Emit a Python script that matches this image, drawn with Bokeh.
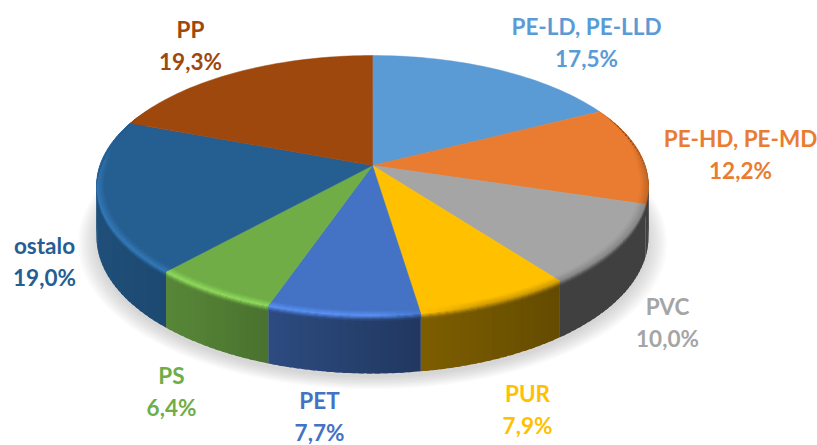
import numpy as np
from bokeh.plotting import figure
from bokeh.models import ColumnDataSource
from bokeh.core.properties import value
from bokeh.embed import file_html
from bokeh.resources import INLINE

categories = ["PE-LD, PE-LLD", "PE-HD, PE-MD", "PVC", "PUR", "PET", "PS", "ostalo", "PP"]
shares = [17.5, 12.2, 10.0, 7.9, 7.7, 6.4, 19.0, 19.3]
colors = ["#5B9BD5", "#E97C30", "#A5A5A5", "#FFC000", "#4472C4", "#70AD47", "#255E91", "#9E480E"]
label_x = [586, 740, 667, 527, 319, 171, 44, 190]
label_y = [26, 138, 306, 393, 400, 375, 245, 29]
line_gap = 32

# perspective view of the pie disc
CX, CY, A, B, K = 372.0, 165.0, 272.7, 126.9, 0.1538


def project(theta, r=1.0):
    u, v = r * np.sin(theta), -r * np.cos(theta)
    d = 1 - K * v
    return CX + A * u / d, CY + B * v / d


def depth(theta):
    return 50 + 8 * (-np.cos(theta))


def rgb(h):
    return np.array([int(h[i:i + 2], 16) for i in (1, 3, 5)], dtype=float)


def tohex(c):
    c = np.clip(np.round(c), 0, 255).astype(int)
    return "#%02x%02x%02x" % tuple(c)


def side_shade(s):
    return np.interp(s, [-1, -.6, -.33, .15, .6, 1], [.85, .76, .66, .49, .39, .39])


p = figure(width=817, height=445, x_range=(0, 817), y_range=(445, 0),
           output_backend="svg", toolbar_location=None, min_border=0,
           outline_line_color=None)
p.axis.visible = False
p.grid.visible = False
p.background_fill_color = "white"

# soft shadow
full = np.linspace(0, 2 * np.pi, 181)
sx, sy = [], []
for e in np.linspace(0.065, 0.0, 9):
    x, y = project(full, 1 + e)
    sx.append(x.tolist())
    sy.append((y + depth(full) + 4).tolist())
p.patches(sx, sy, fill_color="#808080", fill_alpha=0.045, line_color=None)

cum = np.concatenate([[0], np.cumsum(shares)]) / sum(shares) * 2 * np.pi
STEP = np.radians(1.5)
side_q = {"xs": [], "ys": [], "c": []}
bevel_q = {"xs": [], "ys": [], "c": []}
face_q = {"xs": [], "ys": [], "c": []}

LAYERS = 10
for i, col in enumerate(colors):
    t0, t1 = cum[i], cum[i + 1]
    base = rgb(col)
    next_base = rgb(colors[(i + 1) % len(colors)])
    n = max(2, int(np.ceil((t1 - t0) / STEP)))
    th = np.linspace(t0, t1, n + 1)
    fx, fy = project(th)
    face_q["xs"].append([CX] + fx.tolist())
    face_q["ys"].append([CY] + fy.tolist())
    face_q["c"].append(col)
    over = (th[1] - th[0]) * 0.6
    for a, b in zip(th[:-1], th[1:]):
        m = (a + b) / 2
        if -np.cos(m) < -0.45:
            continue
        b2 = min(b + over, t1)
        s = np.sin(m)
        # the wall sliver just past the right-hand extreme belongs to the next slice
        wall = next_base if (s > 0.9 and -np.cos(m) > -0.05 and t1 - m < 0.35) else base
        xa, ya = project(a)
        xb, yb = project(b2)
        side_q["xs"].append([xa, xb, xb, xa])
        side_q["ys"].append([ya, yb, yb + depth(b2), ya + depth(a)])
        side_q["c"].append(tohex(wall * side_shade(s)))
    # rim bevel
    for a, b in zip(th[:-1], th[1:]):
        m = (a + b) / 2
        s, v = np.sin(m), -np.cos(m)
        b2 = min(b + over, t1)
        g = np.clip((v + 0.40) / 0.40, 0, 1)
        ga = np.clip((-np.cos(a) + 0.40) / 0.40, 0, 1)
        gb = np.clip((-np.cos(b2) + 0.40) / 0.40, 0, 1)
        if g <= 0:
            continue
        lift = np.clip((0.2 - s) / 0.2, 0, 1)
        mid = base + (base * 1.22 + 6 - base) * lift
        if s > 0.15:
            mid = base * (1 - 0.18 * np.clip((s - .15) / .2, 0, 1))
        side_col = base * side_shade(s)
        ts = np.linspace(0, 1, LAYERS + 1)
        for q0, q1 in zip(ts[:-1], ts[1:]):
            tc = (q0 + q1) / 2
            if tc < 0.55:
                c = base + (mid - base) * (tc / 0.55)
                c = base + (c - base) * g
            else:
                c = mid + (side_col - mid) * ((tc - 0.55) / 0.45)

            def pt(th_, q, g_):
                # q<.55 is on the face, moving outward; beyond it runs down the side wall
                if q <= 0.55:
                    r = 1 - 0.03 * g_ * (0.55 - q) / 0.55
                    return project(th_, r)
                x_, y_ = project(th_)
                return x_, y_ + (q - 0.55) / 0.45 * 5 * g_

            pts = [pt(a, q0, ga), pt(b2, q0, gb), pt(b2, q1 + 0.03, gb), pt(a, q1 + 0.03, ga)]
            bevel_q["xs"].append([z[0] for z in pts])
            bevel_q["ys"].append([z[1] for z in pts])
            bevel_q["c"].append(tohex(c))

p.patches("xs", "ys", source=ColumnDataSource(side_q), fill_color="c", line_color=None)
p.patches("xs", "ys", source=ColumnDataSource(face_q), fill_color="c", line_color="c", line_width=0.5)
p.patches("xs", "ys", source=ColumnDataSource(bevel_q), fill_color="c", line_color=None)

pct = [f"{v:.1f}%".replace(".", ",") for v in shares]
for dy, texts in ((0, categories), (line_gap, pct)):
    src = ColumnDataSource(dict(x=label_x, y=[y + dy for y in label_y], t=texts, c=colors))
    p.text("x", "y", text="t", source=src, text_color="c", text_align="center",
           text_baseline="middle", text_font=value("Lato"), text_font_size="22.5px",
           text_font_style="bold")

open("out.html", "w").write(file_html(p, INLINE))
